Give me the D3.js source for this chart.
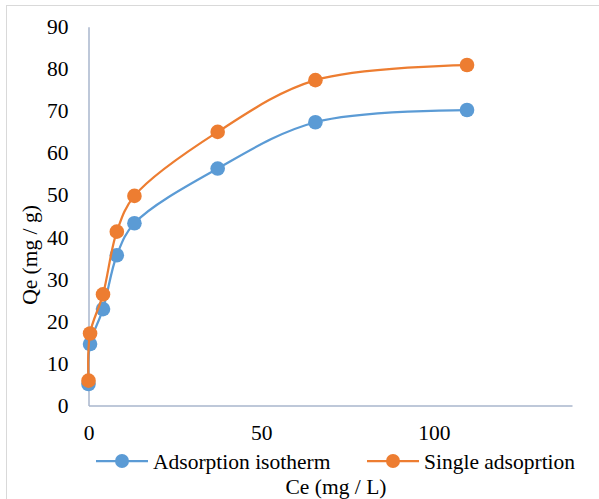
<!DOCTYPE html>
<html>
<head>
<meta charset="utf-8">
<script src="https://cdn.jsdelivr.net/npm/d3@7"></script>
<style>
  html, body { margin: 0; padding: 0; background: #fff; }
  text { font-family: "Liberation Serif", "Times New Roman", serif; fill: #000; }
</style>
</head>
<body>
<div id="chart"></div>
<script>
// Ce values (mg / L), shared by both series
const ceIsotherm = [0, 0.45, 4.2, 8.2, 13.3, 37.4, 65.7, 109.6];
const qeIsotherm = [5.1, 14.6, 22.9, 35.7, 43.3, 56.3, 67.3, 70.2];

const ceSingle = [0, 0.45, 4.2, 8.2, 13.3, 37.4, 65.7, 109.6];
const qeSingle = [5.9, 17.1, 26.4, 41.3, 49.8, 65.0, 77.3, 80.9];

const seriesNames = ['Adsorption isotherm', 'Single adsoprtion'];
const seriesColors = ['#5B9BD5', '#ED7D31'];
const xTicks = [0, 50, 100];
const yTicks = [0, 10, 20, 30, 40, 50, 60, 70, 80, 90];

(function() {
    'use strict';

    const width = 599, height = 499;
    const plot = { left: 88.5, right: 572, top: 26.7, bottom: 405.5 };
    const serif = 'Liberation Serif, Times New Roman, serif';

    const svg = d3.select('#chart').append('svg')
        .attr('width', width)
        .attr('height', height);

    // chart area border (only top/left visible in the crop)
    svg.append('rect')
        .attr('x', 6.5).attr('y', 5.5)
        .attr('width', 640).attr('height', 640)
        .attr('fill', 'none')
        .attr('stroke', '#D9D9D9');

    const x = d3.scaleLinear().domain([0, 140]).range([plot.left, plot.right]);
    const y = d3.scaleLinear().domain([0, 90]).range([plot.bottom, plot.top]);

    const axisColor = '#A9B6CC';
    const fontSize = 21.5;

    // axes
    const xAxis = svg.append('g')
        .attr('transform', `translate(0,${plot.bottom})`)
        .call(d3.axisBottom(x).tickValues(xTicks).tickSize(0).tickPadding(19));
    const yAxis = svg.append('g')
        .attr('transform', `translate(${plot.left},0)`)
        .call(d3.axisLeft(y).tickValues(yTicks).tickSize(0).tickPadding(20));

    [xAxis, yAxis].forEach(g => {
        g.attr('font-family', serif).attr('font-size', fontSize);
        g.select('.domain').attr('stroke', axisColor).attr('stroke-width', 1.5);
        g.selectAll('text').attr('fill', '#000');
    });

    // series
    const series = [
        { name: seriesNames[0], color: seriesColors[0], pts: ceIsotherm.map((c, i) => [c, qeIsotherm[i]]) },
        { name: seriesNames[1], color: seriesColors[1], pts: ceSingle.map((c, i) => [c, qeSingle[i]]) }
    ];

    const line = d3.line()
        .x(d => x(d[0]))
        .y(d => y(d[1]))
        .curve(d3.curveCatmullRom.alpha(0.5));

    series.forEach(s => {
        svg.append('path')
            .attr('d', line(s.pts))
            .attr('fill', 'none')
            .attr('stroke', s.color)
            .attr('stroke-width', 2.25);
        svg.append('g').selectAll('circle')
            .data(s.pts)
            .enter()
            .append('circle')
            .attr('cx', d => x(d[0]))
            .attr('cy', d => y(d[1]))
            .attr('r', 7.3)
            .attr('fill', s.color);
    });

    // axis titles
    svg.append('text')
        .attr('transform', 'translate(37,255) rotate(-90)')
        .attr('text-anchor', 'middle')
        .attr('font-family', serif)
        .attr('font-size', fontSize)
        .text('Qe (mg / g)');

    svg.append('text')
        .attr('x', 336).attr('y', 494)
        .attr('text-anchor', 'middle')
        .attr('font-family', serif)
        .attr('font-size', fontSize)
        .text('Ce (mg / L)');

    // legend
    const legendY = 461;
    const legendItems = [
        { x0: 96, x1: 148, text: 153 },
        { x0: 367, x1: 419, text: 424 }
    ];
    legendItems.forEach((it, i) => {
        const g = svg.append('g');
        g.append('line')
            .attr('x1', it.x0).attr('x2', it.x1)
            .attr('y1', legendY).attr('y2', legendY)
            .attr('stroke', seriesColors[i])
            .attr('stroke-width', 2.25);
        g.append('circle')
            .attr('cx', (it.x0 + it.x1) / 2).attr('cy', legendY)
            .attr('r', 7)
            .attr('fill', seriesColors[i]);
        g.append('text')
            .attr('x', it.text).attr('y', legendY)
            .attr('dy', '0.35em')
            .attr('font-family', serif)
            .attr('font-size', fontSize)
            .text(seriesNames[i]);
    });
})();
</script>
</body>
</html>
